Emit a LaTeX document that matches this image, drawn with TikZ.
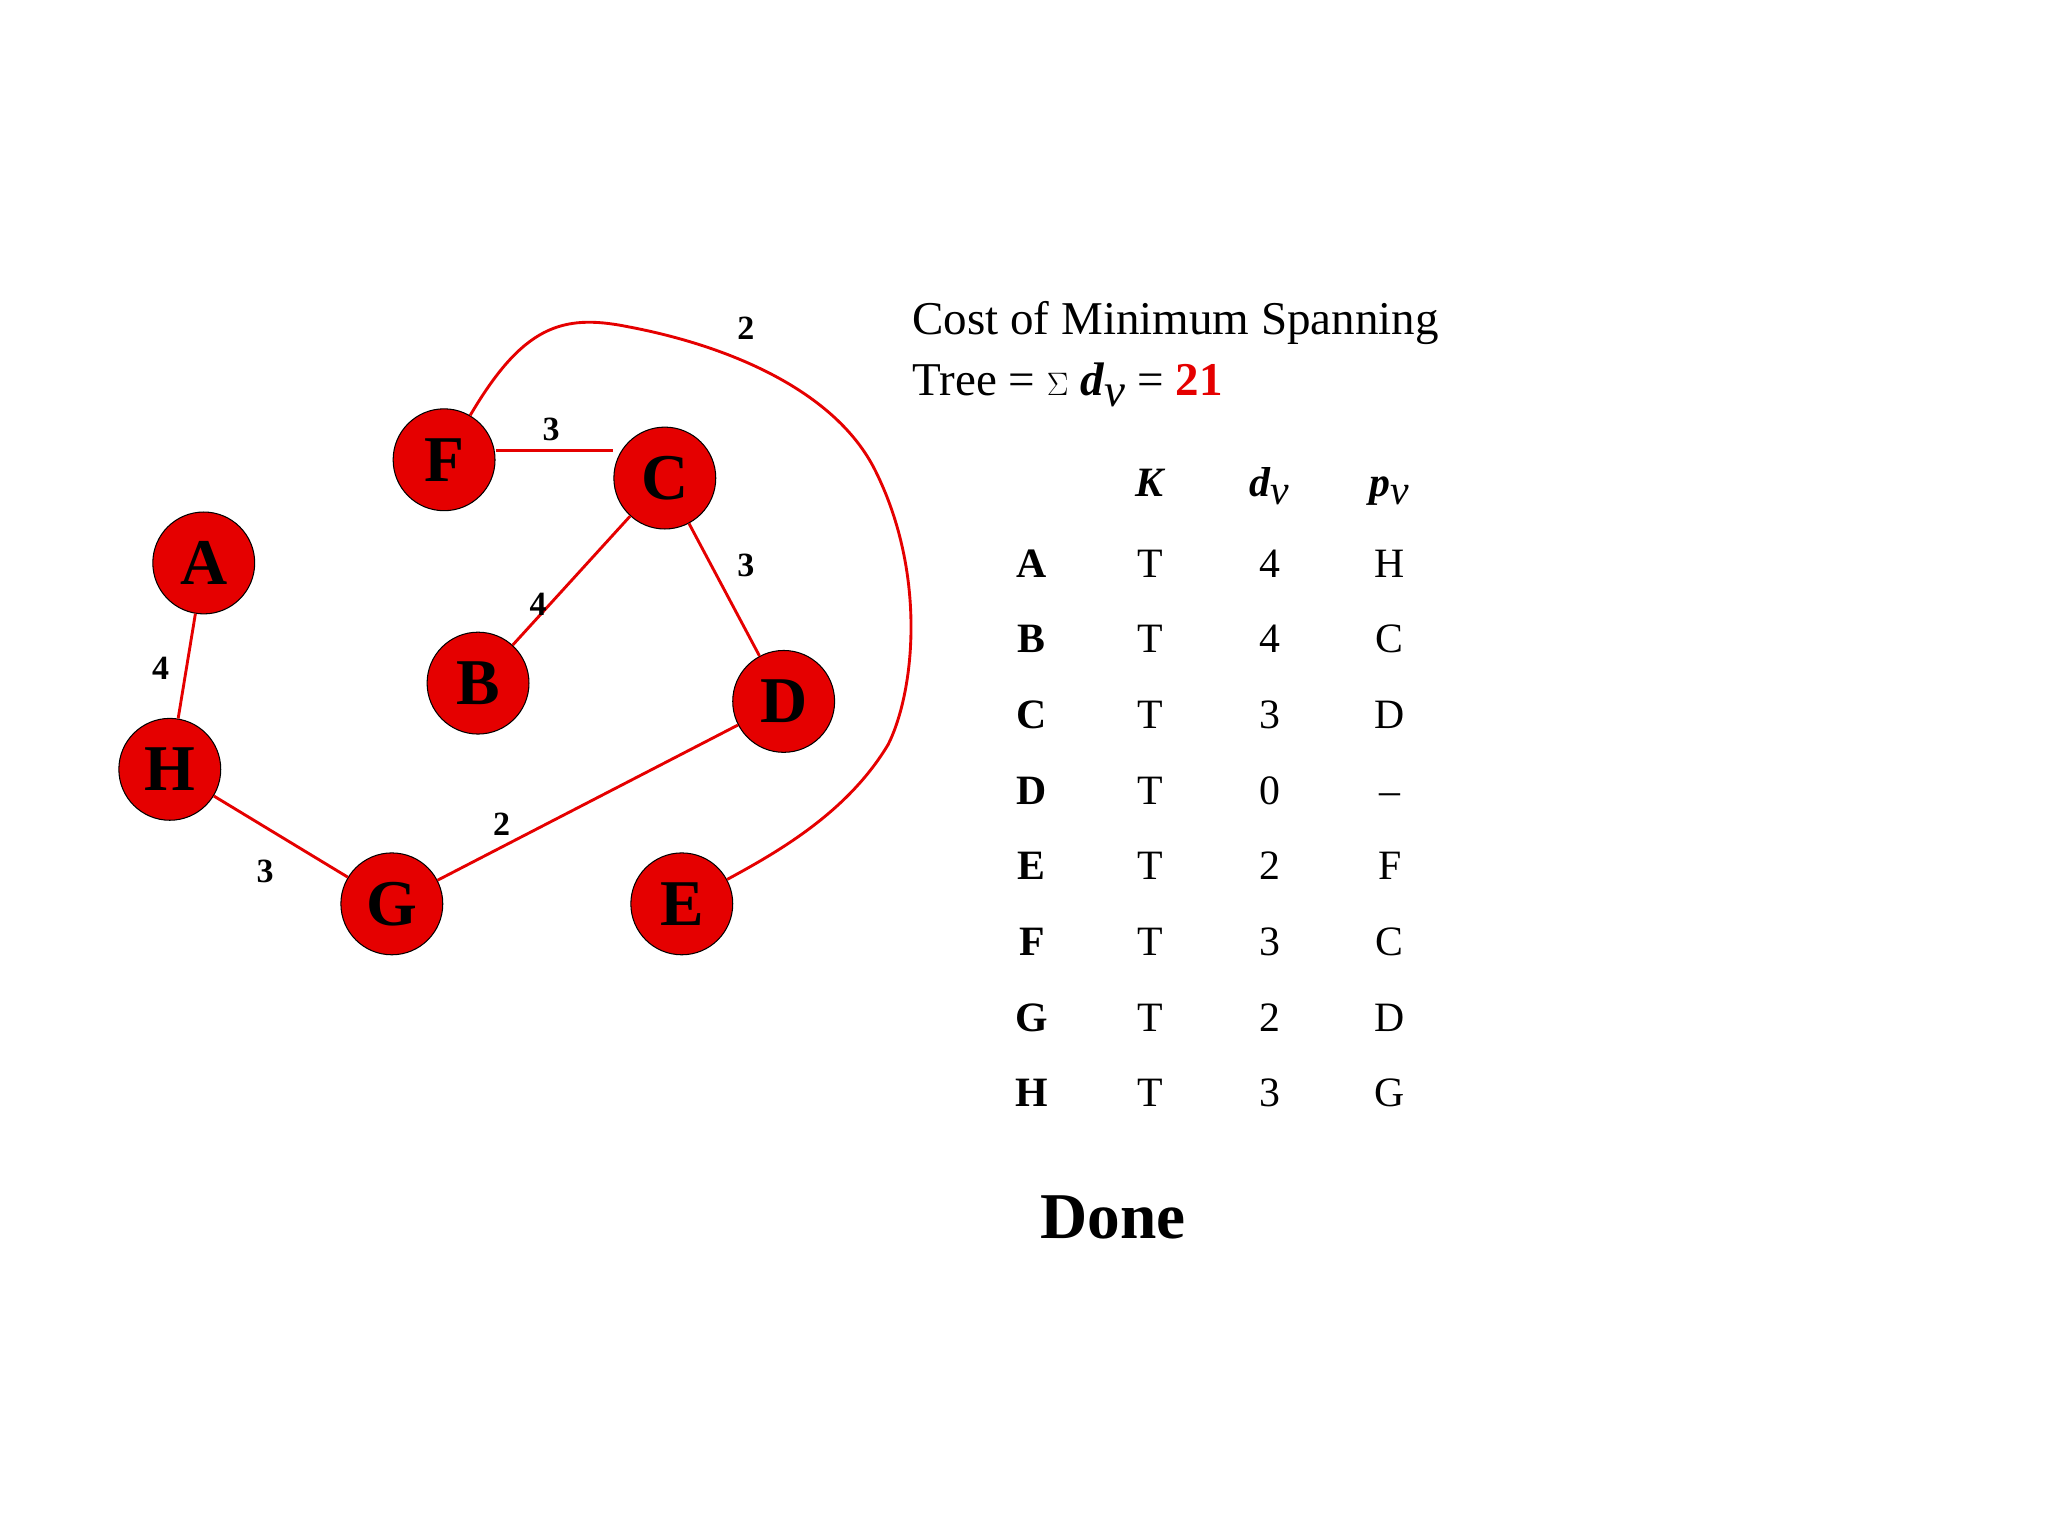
\documentclass[tikz,border=0pt]{standalone}
\usepackage{fontspec}
\setmainfont{Liberation Serif}
\begin{document}
\begin{tikzpicture}[x=1pt,y=-1pt,
  vtx/.style={circle,draw=black,thick,fill=red!90!black,minimum size=78pt,inner sep=0pt,font=\fontsize{50}{50}\selectfont\bfseries},
  edge/.style={red!90!black,line width=2.2pt},
  wt/.style={font=\fontsize{26}{26}\selectfont\bfseries},
  cell/.style={font=\fontsize{32}{32}\selectfont,anchor=base}]
\useasboundingbox (0,0) rectangle (1568,1176);
\node[vtx] (F) at (340,352) {F};
\node[vtx] (C) at (509,366) {C};
\node[vtx] (A) at (156,431) {A};
\node[vtx] (B) at (366,523) {B};
\node[vtx] (D) at (600,537) {D};
\node[vtx] (H) at (130,589) {H};
\node[vtx] (G) at (300,692) {G};
\node[vtx] (E) at (522,692) {E};
\begin{scope}[on background layer/.style={}]
\draw[edge] (F.east |- 0,345) -- (C.west |- 0,345);
\draw[edge] (C) -- (B);
\draw[edge] (C) -- (D);
\draw[edge] (A) -- (H);
\draw[edge] (H) -- (G);
\draw[edge] (G) -- (D);
\draw[edge] (F) .. controls (400,250) and (430,240) .. (480,250)
  .. controls (560,265) and (640,300) .. (670,360)
  .. controls (710,440) and (700,530) .. (680,570)
  .. controls (650,620) and (600,650) .. (E);
\end{scope}
\node[wt] at (571,251) {2};
\node[wt] at (422,329) {3};
\node[wt] at (571,433) {3};
\node[wt] at (412,463) {4};
\node[wt] at (123,512) {4};
\node[wt] at (384,631) {2};
\node[wt] at (203,667) {3};
\node[font=\fontsize{36}{36}\selectfont,anchor=base west] (t1) at (695,256) {Cost of Minimum Spanning};
\node[font=\fontsize{36}{36}\selectfont,anchor=base west] (t2) at (695,303) {Tree = $\Sigma$ \textbf{\textit{d}}$_{\textit{v}}$ = \textcolor{red!90!black}{\textbf{21}}};
\node[cell] (hK) at (881,380) {\textbf{\textit{K}}};
\node[cell] (hd) at (972,380) {\textbf{\textit{d}}$_{\textit{v}}$};
\node[cell] (hp) at (1064,380) {\textbf{\textit{p}}$_{\textit{v}}$};
\foreach \l/\k/\d/\p [count=\i] in {A/T/4/H,B/T/4/C,C/T/3/D,D/T/0/--,E/T/2/F,F/T/3/C,G/T/2/D,H/T/3/G}{
  \node[cell] (r\i) at (790,{431+57.9*(\i-1)+11}) {\textbf{\l}};
  \node[cell] (k\i) at (881,{431+57.9*(\i-1)+11}) {\k};
  \node[cell] (d\i) at (972,{431+57.9*(\i-1)+11}) {\d};
  \node[cell] (p\i) at (1064,{431+57.9*(\i-1)+11}) {\p};
}
\node[font=\fontsize{50}{50}\selectfont\bfseries] (done) at (852,932) {Done};
\end{tikzpicture}
\end{document}
